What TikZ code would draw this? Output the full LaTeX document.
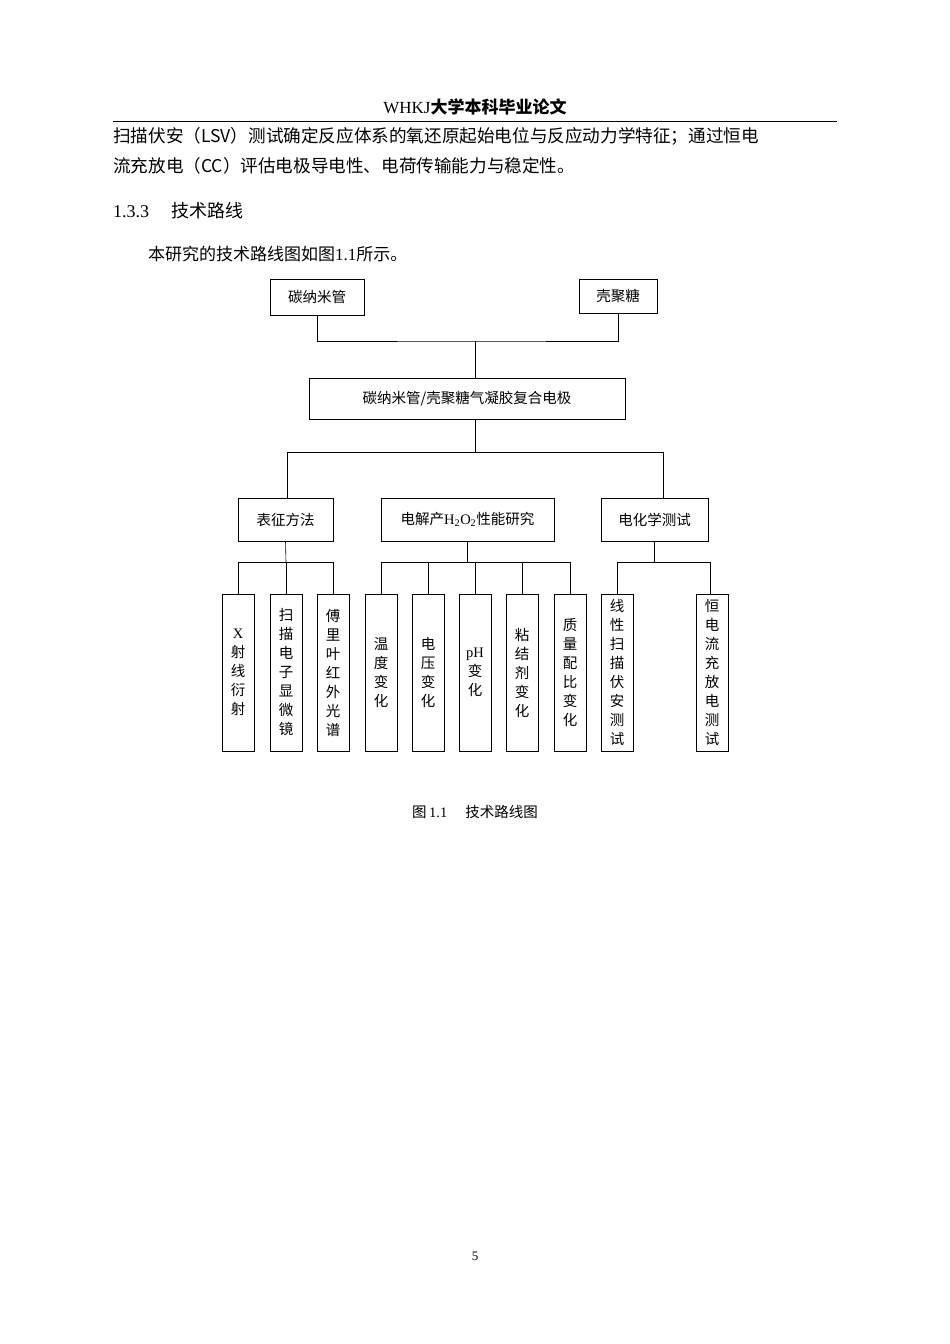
\documentclass[tikz,border=0pt]{standalone}
\usepackage{fontspec}
\setmainfont{Liberation Serif}
\newfontfamily\cjk{Noto Sans CJK SC}
\newcommand{\zh}[1]{{\cjk #1}}
\begin{document}
\begin{tikzpicture}[x=1pt,y=-1pt,
  box/.style={draw,line width=0.6pt,inner sep=0pt,font=\cjk\fontsize{14.5}{16}\selectfont},
  leaf/.style={box,minimum width=32pt,minimum height=157pt,align=center,font=\cjk\fontsize{14.5}{19}\selectfont},
  ln/.style={line width=0.6pt}]
\useasboundingbox (0,0) rectangle (950,1344);
% header
\node (hdr) at (475,107) {\fontsize{17}{20}\selectfont WHKJ\zh{\bfseries 大学本科毕业论文}};
\draw[line width=0.6pt] (113,121) -- (837,121);
\node[anchor=west,inner sep=0] (l1) at (113,136) {\cjk\fontsize{17.6}{20}\selectfont 扫描伏安（{\rmfamily\setmainfont{Liberation Serif}}LSV）测试确定反应体系的氧还原起始电位与反应动力学特征；通过恒电};
\node[anchor=west,inner sep=0] (l2) at (113,166) {\cjk\fontsize{17.6}{20}\selectfont 流充放电（CC）评估电极导电性、电荷传输能力与稳定性。};
\node[anchor=west,inner sep=0] (sec) at (113,211) {\fontsize{18}{20}\selectfont 1.3.3\hspace{22pt}\zh{技术路线}};
\node[anchor=west,inner sep=0] (intro) at (148,254) {\fontsize{17}{20}\selectfont \zh{本研究的技术路线图如图}1.1\zh{所示。}};
% top boxes
\node[box,minimum width=94pt,minimum height=36pt] (cnt) at (317,297) {碳纳米管};
\node[box,minimum width=78pt,minimum height=34pt] (chi) at (618,296) {壳聚糖};
\node[box,minimum width=316pt,minimum height=41pt] (comp) at (467,398.5) {碳纳米管/壳聚糖气凝胶复合电极};
\coordinate (j1) at (475,341);
\draw[ln] (cnt.south) |- (j1) -| (chi.south);
\draw[ln] (j1) -- (475,378);
% level 2
\node[box,minimum width=95pt,minimum height=43pt] (bz) at (285.5,519.5) {表征方法};
\node[box,minimum width=173pt,minimum height=43pt] (dj) at (467.5,519.5) {电解产{\rmfamily H\textsubscript{2}O\textsubscript{2}}性能研究};
\node[box,minimum width=107pt,minimum height=43pt] (dh) at (654.5,519.5) {电化学测试};
\coordinate (j2) at (475,452);
\draw[ln] (475,419) -- (j2);
\draw[ln] (287,498) |- (663,452) -- (663,498);
% leaves
\foreach \n/\x/\t in {a/238/{\rmfamily X}\\射\\线\\衍\\射, b/286/扫\\描\\电\\子\\显\\微\\镜, c/333/傅\\里\\叶\\红\\外\\光\\谱,
 d/381/温\\度\\变\\化, e/428/电\\压\\变\\化, f/475/{\rmfamily pH}\\变\\化, g/522/粘\\结\\剂\\变\\化, h/570/质\\量\\配\\比\\变\\化,
 i/617/线\\性\\扫\\描\\伏\\安\\测\\试, k/712/恒\\电\\流\\充\\放\\电\\测\\试}
 { \node[leaf] (\n) at (\x,672.5) {\t}; }
\draw[ln] (bz.south) -- (286,562); \draw[ln] (a.north) |- (c.north |- 0,562) -- (c.north); \draw[ln] (286,562) -- (b.north);
\draw[ln] (dj.south) -- (467.5,562); \draw[ln] (d.north) |- (h.north |- 0,562) -- (h.north);
\foreach \n in {e,f,g} \draw[ln] (\n.north |- 0,562) -- (\n.north);
\draw[ln] (dh.south) -- (654.5,562); \draw[ln] (i.north) |- (710,562) -- (710,594);
% caption
\node (cap) at (475,812) {\fontsize{14.5}{16}\selectfont \zh{图}\,1.1\hspace{18pt}\zh{技术路线图}};
\node (pg) at (475,1256) {\fontsize{13}{14}\selectfont 5};
\end{tikzpicture}
\end{document}
